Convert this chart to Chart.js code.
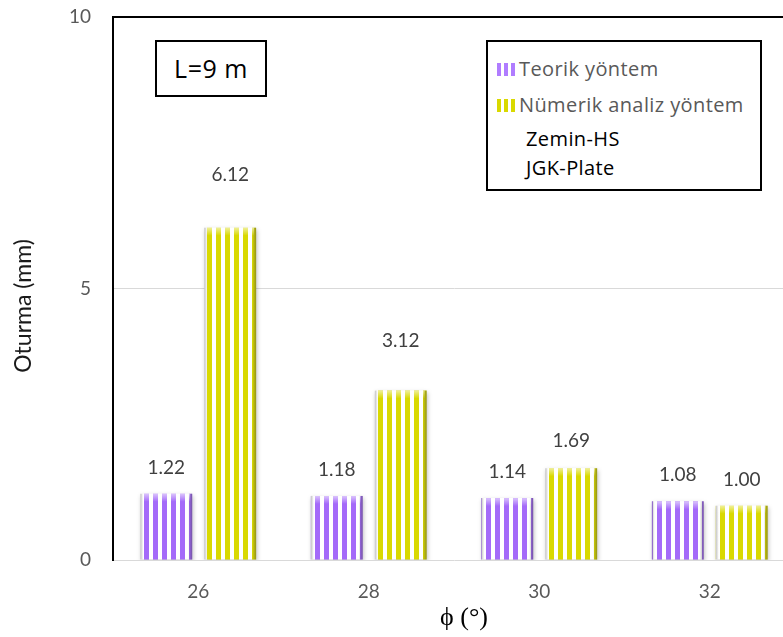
<!DOCTYPE html>
<html>
<head>
<meta charset="utf-8">
<script src="https://cdn.jsdelivr.net/npm/chart.js@4"></script>
<style>
  body { margin: 0; overflow: hidden; background: #fff; font-family: "Open Sans", Lato, sans-serif; }
  #wrap { position: relative; width: 800px; height: 637px; }
  #chart { position: absolute; left: 0; top: 0; }
  .box { position: absolute; border: 2px solid #000; background: #fff; box-sizing: border-box; }
  #lbox { left: 155px; top: 40px; width: 112px; height: 57px; font-size: 25px; letter-spacing: 0.5px; line-height: 53px; text-align: center; color: #000; }
  #legend { left: 486px; top: 40px; width: 276px; height: 151px; font-size: 20px; letter-spacing: 0.4px; }
  .item { position: absolute; white-space: nowrap; line-height: 24px; }
  .mark { position: absolute; width: 19px; height: 13px; }
</style>
</head>
<body>
<div id="wrap">
  <canvas id="chart" width="800" height="637"></canvas>
  <div id="lbox" class="box">L=9 m</div>
  <div id="legend" class="box">
    <span class="mark" style="left:9px; top:21px; background: repeating-linear-gradient(90deg, #b07cff 0 4px, #fff 4px 7px);"></span>
    <div class="item" style="left:31px; top:15px; color:#595959;">Teorik yöntem</div>
    <span class="mark" style="left:9px; top:57px; background: repeating-linear-gradient(90deg, #d9d900 0 4px, #fff 4px 7px);"></span>
    <div class="item" style="left:31px; top:51px; color:#595959;">Nümerik analiz yöntem</div>
    <div class="item" style="left:38px; top:85px; color:#000;">Zemin-HS</div>
    <div class="item" style="left:38px; top:114px; color:#000;">JGK-Plate</div>
  </div>
</div>
<script>
const categories = ['26', '28', '30', '32'];
const teorik = [1.22, 1.18, 1.14, 1.08];
const numerik = [6.12, 3.12, 1.69, 1.00];
const seriesNames = ['Teorik yöntem', 'Nümerik analiz yöntem'];
const yTicks = [0, 5, 10];
const xTitle = 'ϕ (°)';
const yTitle = 'Oturma (mm)';

// how far each value label sits above its bar top (px)
const labelLift = [[26, 26, 26, 26], [53, 50, 27, 26]];

// vertical stripe fill for the bars
function stripes(color) {
    const c = document.createElement('canvas');
    c.width = 9;
    c.height = 4;
    const g = c.getContext('2d');
    g.fillStyle = '#ffffff';
    g.fillRect(0, 0, 9, 4);
    g.fillStyle = color;
    g.fillRect(0, 0, 5, 4);
    return g.createPattern(c, 'repeat');
}

// soft drop shadow under the bars, then bevel edges on top
const barLook = {
    id: 'barLook',
    beforeDatasetsDraw(chart) {
        const ctx = chart.ctx;
        ctx.save();
        ctx.shadowColor = 'rgba(0,0,0,0.25)';
        ctx.shadowBlur = 4;
        ctx.shadowOffsetX = 1;
        ctx.shadowOffsetY = 2;
    },
    afterDatasetsDraw(chart) {
        const ctx = chart.ctx;
        ctx.restore();
        chart.data.datasets.forEach((ds, di) => {
            chart.getDatasetMeta(di).data.forEach(bar => {
                const left = bar.x - bar.width / 2;
                const right = bar.x + bar.width / 2;
                const top = bar.y;
                const h = bar.base - bar.y;
                let g = ctx.createLinearGradient(left, 0, left + 3, 0);
                g.addColorStop(0, 'rgba(120,120,120,0.45)');
                g.addColorStop(1, 'rgba(120,120,120,0)');
                ctx.fillStyle = g;
                ctx.fillRect(left, top, 3, h);
                g = ctx.createLinearGradient(right - 4, 0, right, 0);
                g.addColorStop(0, 'rgba(60,60,60,0)');
                g.addColorStop(1, 'rgba(60,60,60,0.45)');
                ctx.fillStyle = g;
                ctx.fillRect(right - 4, top, 4, h);
                g = ctx.createLinearGradient(0, top, 0, top + 8);
                g.addColorStop(0, 'rgba(255,255,255,0.6)');
                g.addColorStop(1, 'rgba(255,255,255,0)');
                ctx.fillStyle = g;
                ctx.fillRect(left + 2, top, bar.width - 4, 8);
            });
        });
    },
    afterDraw(chart) {
        const ctx = chart.ctx;
        ctx.save();
        // value labels above each bar
        ctx.font = '19px Lato, "Open Sans", sans-serif';
        ctx.fillStyle = '#404040';
        ctx.textAlign = 'center';
        ctx.textBaseline = 'middle';
        chart.data.datasets.forEach((ds, di) => {
            chart.getDatasetMeta(di).data.forEach((bar, i) => {
                ctx.fillText(ds.data[i].toFixed(2), bar.x, bar.y - labelLift[di][i]);
            });
        });
        // axis titles
        ctx.fillStyle = '#000';
        ctx.font = '26px "Liberation Serif", serif';
        ctx.fillText(xTitle, 464, 618);
        ctx.translate(24, 306);
        ctx.rotate(-Math.PI / 2);
        ctx.fillStyle = '#1a1a1a';
        ctx.font = '23px Lato, "Open Sans", sans-serif';
        ctx.fillText(yTitle, 0, 0);
        ctx.restore();
    }
};

new Chart(document.getElementById('chart'), {
    type: 'bar',
    data: {
        labels: categories,
        datasets: [
            {
                label: seriesNames[0],
                data: teorik,
                backgroundColor: stripes('#a46af9'),
                borderWidth: 0,
                categoryPercentage: 0.75,
                barPercentage: 0.81
            },
            {
                label: seriesNames[1],
                data: numerik,
                backgroundColor: stripes('#d9d900'),
                borderWidth: 0,
                categoryPercentage: 0.75,
                barPercentage: 0.81
            }
        ]
    },
    options: {
        responsive: false,
        animation: false,
        layout: { padding: { top: 17, right: 5, left: 0, bottom: 0 } },
        plugins: {
            legend: { display: false },
            tooltip: { enabled: false }
        },
        scales: {
            x: {
                grid: { display: false },
                border: { display: false },
                ticks: {
                    color: '#595959',
                    font: { family: 'Lato', size: 19 },
                    padding: 12
                },
                afterFit(scale) { scale.height = 77; }
            },
            y: {
                min: 0,
                max: 10,
                afterBuildTicks(scale) { scale.ticks = yTicks.map(v => ({ value: v })); },
                grid: {
                    drawTicks: false,
                    color: ctx => ctx.tick && ctx.tick.value === 10 ? '#000' : '#d9d9d9',
                    lineWidth: ctx => ctx.tick && ctx.tick.value === 10 ? 2 : 1
                },
                border: { color: '#000', width: 2 },
                ticks: {
                    color: '#595959',
                    font: { family: 'Lato', size: 19 },
                    padding: 22
                },
                afterFit(scale) {
                    scale.width = 113;
                    scale.paddingTop = 0;
                    scale.paddingBottom = 0;
                }
            }
        }
    },
    plugins: [barLook]
});
</script>
</body>
</html>
